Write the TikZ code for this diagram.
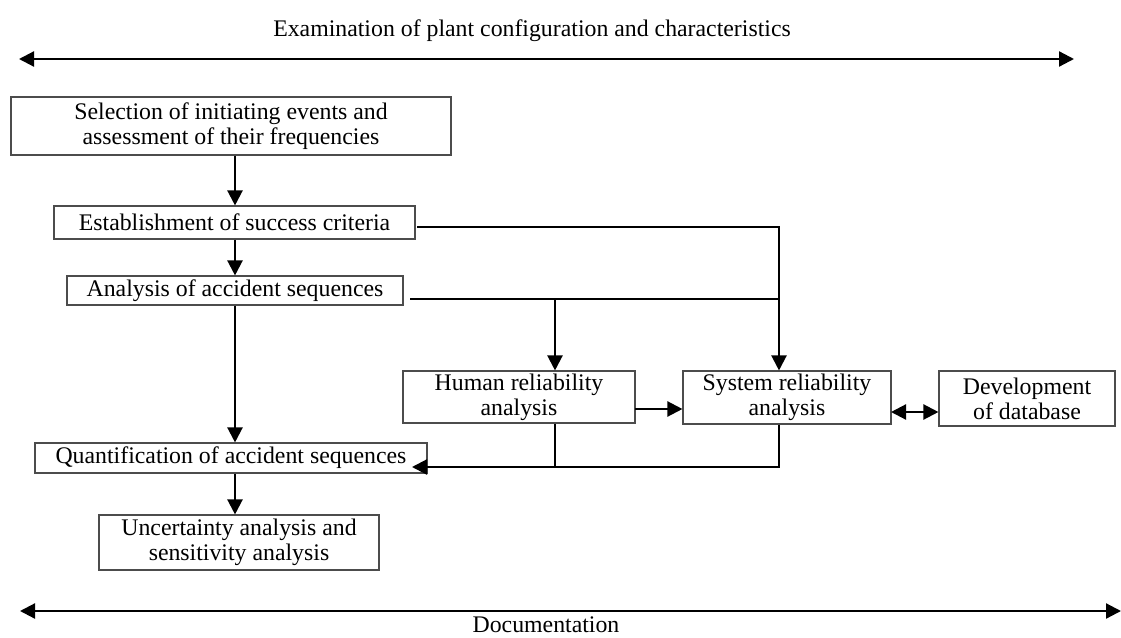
\documentclass[tikz,border=0pt]{standalone}
\usepackage{fontspec}
\setmainfont{Liberation Serif}
\usetikzlibrary{arrows.meta}
\begin{document}
\begin{tikzpicture}[x=1pt,y=-1pt,
  txt/.style={font=\fontsize{23.8}{25}\selectfont},
  box/.style={txt, draw=black!70, line width=1.1pt, inner sep=0pt, align=center},
  conn/.style={line width=2.2pt},
  arr/.style={conn, -{Triangle[length=15pt,width=15pt]}},
  dbl/.style={conn, {Triangle[length=15pt,width=15pt]}-{Triangle[length=15pt,width=15pt]}},
  lbl/.style={txt, inner sep=0pt}]
\useasboundingbox (0,0) rectangle (1121,637);

% top and bottom spans
\node[lbl, anchor=base] (ttop) at (532,36) {Examination of plant configuration and characteristics};
\coordinate (tl) at (19,59);
\coordinate (tr) at (1074,59);
\draw[dbl] (tl) -- (tr);
\coordinate (bl) at (20,611);
\coordinate (br) at (1121,611);
\draw[dbl] (bl) -- (br);
\node[lbl, anchor=base] (tbot) at (546,632) {Documentation};

% boxes
\node[box, minimum width=440pt, minimum height=58pt] (b1) at (231,126) {Selection of initiating events and\\assessment of their frequencies};
\node[box, minimum width=361pt, minimum height=33pt] (b2) at (234.5,222.5) {Establishment of success criteria};
\node[box, minimum width=336pt, minimum height=29pt] (b3) at (235,290.5) {Analysis of accident sequences};
\node[box, minimum width=392pt, minimum height=30pt] (quant) at (231,458) {Quantification of accident sequences};
\node[box, minimum width=280pt, minimum height=55pt] (unc) at (239,542.5) {Uncertainty analysis and\\sensitivity analysis};
\node[box, minimum width=232pt, minimum height=52pt] (human) at (519,397) {Human reliability\\analysis};
\node[box, minimum width=208pt, minimum height=53pt] (sys) at (787,397.5) {System reliability\\analysis};
\node[box, minimum width=176pt, minimum height=55pt] (dev) at (1027,398.5) {Development\\of database};

% main column
\coordinate (mx) at (235,0);
\draw[arr] (b1.south -| mx) -- (b2.north -| mx);
\draw[arr] (b2.south -| mx) -- (b3.north -| mx);
\draw[arr] (b3.south -| mx) -- (quant.north -| mx);
\draw[arr] (quant.south -| mx) -- (unc.north -| mx);

% feeds to reliability analyses
\coordinate (c1) at (417,227);
\coordinate (c2) at (779,227);
\draw[arr] (c1) -- (c2) -- (sys.north -| c2);
\coordinate (c3) at (410,299);
\coordinate (c4) at (779,299);
\draw[conn] (c3) -- (c4);
\coordinate (j1) at (555,299);
\draw[arr] (j1) -- (human.north -| j1);

% human -> system, system <-> database
\coordinate (h1) at (635,409);
\draw[arr] (h1) -- (sys.west |- h1);
\coordinate (s1) at (891,412);
\draw[dbl] (s1) -- (dev.west |- s1);

% returns to quantification
\coordinate (r1) at (779,467);
\coordinate (r2) at (555,467);
\coordinate (qin) at (412,467);
\draw[arr] (sys.south -| r1) -- (r1) -- (qin);
\draw[conn] (human.south -| r2) -- (r2);
\end{tikzpicture}
\end{document}
